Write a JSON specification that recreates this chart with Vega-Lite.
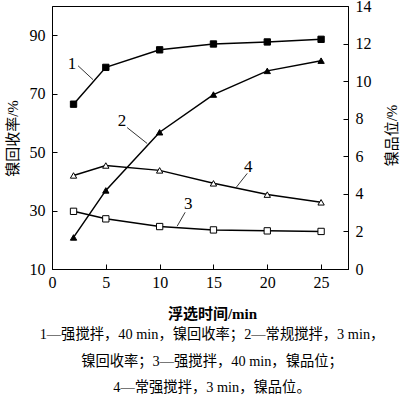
{
  "$schema": "https://vega.github.io/schema/vega-lite/v6.json",
  "width": 296,
  "height": 263,
  "autosize": {"type": "none"},
  "padding": {"left": 52, "top": 6, "right": 52, "bottom": 126},
  "config": {
    "font": "Liberation Serif, Noto Sans CJK SC",
    "view": {"stroke": "black", "strokeWidth": 1},
    "axis": {
      "grid": false,
      "domainColor": "black",
      "tickColor": "black",
      "labelColor": "black",
      "titleColor": "black",
      "labelFont": "Liberation Serif",
      "labelFontSize": 16,
      "titleFont": "Liberation Serif, Noto Sans CJK SC",
      "titleFontSize": 15,
      "titleFontWeight": "normal",
      "tickSize": -5,
      "labelFlush": false,
      "labelOverlap": false
    }
  },
  "title": {
    "text": ["1—强搅拌，40 min，镍回收率；2—常规搅拌，3 min，", "镍回收率；3—强搅拌，40 min，镍品位；", "4—常强搅拌，3 min，镍品位。"],
    "orient": "bottom",
    "anchor": "middle",
    "font": "Liberation Serif, Noto Sans CJK SC",
    "fontSize": 14.3,
    "fontWeight": "normal",
    "color": "black",
    "lineHeight": 26.5,
    "offset": 7,
    "dx": 12
  },
  "datasets": {
    "rec": [
      {"t": 2, "v": 66.4, "s": "1"},
      {"t": 5, "v": 79.0, "s": "1"},
      {"t": 10, "v": 85.0, "s": "1"},
      {"t": 15, "v": 87.0, "s": "1"},
      {"t": 20, "v": 87.7, "s": "1"},
      {"t": 25, "v": 88.6, "s": "1"},
      {"t": 2, "v": 20.8, "s": "2"},
      {"t": 5, "v": 36.9, "s": "2"},
      {"t": 10, "v": 56.8, "s": "2"},
      {"t": 15, "v": 69.7, "s": "2"},
      {"t": 20, "v": 77.8, "s": "2"},
      {"t": 25, "v": 81.3, "s": "2"}
    ],
    "grade": [
      {"t": 2, "v": 3.07, "s": "3"},
      {"t": 5, "v": 2.67, "s": "3"},
      {"t": 10, "v": 2.26, "s": "3"},
      {"t": 15, "v": 2.08, "s": "3"},
      {"t": 20, "v": 2.03, "s": "3"},
      {"t": 25, "v": 2.0, "s": "3"},
      {"t": 2, "v": 4.98, "s": "4"},
      {"t": 5, "v": 5.51, "s": "4"},
      {"t": 10, "v": 5.25, "s": "4"},
      {"t": 15, "v": 4.56, "s": "4"},
      {"t": 20, "v": 3.96, "s": "4"},
      {"t": 25, "v": 3.55, "s": "4"}
    ],
    "leadL": [
      {"lab": "1", "lx": 1.86, "ly": 80.2, "t": 2.42, "v": 79.55, "t2": 3.81, "v2": 74.8},
      {"lab": "2", "lx": 6.51, "ly": 60.5, "t": 6.98, "v": 58.4, "t2": 8.84, "v2": 52.96}
    ],
    "leadR": [
      {"lab": "3", "lx": 12.65, "ly": 3.45, "t": 12.37, "v": 3.02, "t2": 11.63, "v2": 2.28},
      {"lab": "4", "lx": 18.23, "ly": 5.41, "t": 18.14, "v": 5.09, "t2": 17.12, "v2": 4.35}
    ]
  },
  "layer": [
    {
      "layer": [
        {
          "data": {"name": "rec"},
          "mark": {"type": "line", "color": "black", "strokeWidth": 1.5},
          "encoding": {
            "x": {"field": "t", "type": "quantitative", "scale": {"domain": [0, 27.5], "nice": false},
              "axis": {"values": [0, 5, 10, 15, 20, 25], "title": "浮选时间/min", "titleFontWeight": "bold", "titleX": 160, "titleY": 44, "titleBaseline": "middle", "titleAlign": "center", "labelPadding": 10, "labelOverlap": false}},
            "y": {"field": "v", "type": "quantitative", "scale": {"domain": [10, 100], "nice": false},
              "axis": {"orient": "left", "values": [10, 30, 50, 70, 90], "title": "镍回收率/%", "titleX": -40, "titleY": 132, "titleAngle": 270, "titleBaseline": "middle", "titleAlign": "center", "labelPadding": 12, "labelOverlap": false}},
            "detail": {"field": "s"}
          }
        },
        {
          "data": {"name": "rec"},
          "mark": {"type": "point", "filled": true, "size": 40, "stroke": "black", "strokeWidth": 1, "opacity": 1},
          "encoding": {
            "x": {"field": "t", "type": "quantitative"},
            "y": {"field": "v", "type": "quantitative"},
            "shape": {"field": "s", "type": "nominal", "scale": {"domain": ["1", "2", "3", "4"], "range": ["square", "triangle-up", "square", "triangle-up"]}, "legend": null},
            "fill": {"field": "s", "type": "nominal", "scale": {"domain": ["1", "2", "3", "4"], "range": ["black", "black", "white", "white"]}, "legend": null}
          }
        },
        {
          "data": {"name": "leadL"},
          "mark": {"type": "rule", "color": "black", "strokeWidth": 0.8},
          "encoding": {
            "x": {"field": "t", "type": "quantitative"},
            "y": {"field": "v", "type": "quantitative"},
            "x2": {"field": "t2"},
            "y2": {"field": "v2"}
          }
        },
        {
          "data": {"name": "leadL"},
          "mark": {"type": "text", "font": "Liberation Serif", "fontSize": 17, "color": "black"},
          "encoding": {
            "x": {"field": "lx", "type": "quantitative", "title": "浮选时间/min"},
            "y": {"field": "ly", "type": "quantitative", "title": "镍回收率/%"},
            "text": {"field": "lab"}
          }
        }
      ]
    },
    {
      "encoding": {
        "y": {"field": "v", "type": "quantitative", "scale": {"domain": [0, 14], "nice": false},
          "axis": {"orient": "right", "values": [0, 2, 4, 6, 8, 10, 12, 14], "tickCount": 8, "title": "镍品位/%", "titleX": 43, "titleY": 129, "titleAngle": 270, "titleBaseline": "middle", "titleAlign": "center", "labelPadding": 12, "labelOverlap": false}}
      },
      "layer": [
        {
          "data": {"name": "grade"},
          "mark": {"type": "line", "color": "black", "strokeWidth": 1.5},
          "encoding": {
            "x": {"field": "t", "type": "quantitative"},
            "detail": {"field": "s"}
          }
        },
        {
          "data": {"name": "grade"},
          "mark": {"type": "point", "filled": true, "size": 40, "stroke": "black", "strokeWidth": 1, "opacity": 1},
          "encoding": {
            "x": {"field": "t", "type": "quantitative"},
            "shape": {"field": "s", "type": "nominal"},
            "fill": {"field": "s", "type": "nominal"}
          }
        },
        {
          "data": {"name": "leadR"},
          "mark": {"type": "rule", "color": "black", "strokeWidth": 0.8},
          "encoding": {
            "x": {"field": "t", "type": "quantitative"},
            "x2": {"field": "t2"},
            "y2": {"field": "v2"}
          }
        },
        {
          "data": {"name": "leadR"},
          "mark": {"type": "text", "font": "Liberation Serif", "fontSize": 17, "color": "black"},
          "encoding": {
            "x": {"field": "lx", "type": "quantitative", "title": "浮选时间/min"},
            "y": {"field": "ly", "type": "quantitative", "scale": {"domain": [0, 14], "nice": false},
              "axis": {"orient": "right", "values": [0, 2, 4, 6, 8, 10, 12, 14], "tickCount": 8, "title": "镍品位/%", "titleX": 43, "titleY": 129, "titleAngle": 270, "titleBaseline": "middle", "titleAlign": "center", "labelPadding": 12, "labelOverlap": false}},
            "text": {"field": "lab"}
          }
        }
      ]
    }
  ],
  "resolve": {"scale": {"y": "independent"}}
}
